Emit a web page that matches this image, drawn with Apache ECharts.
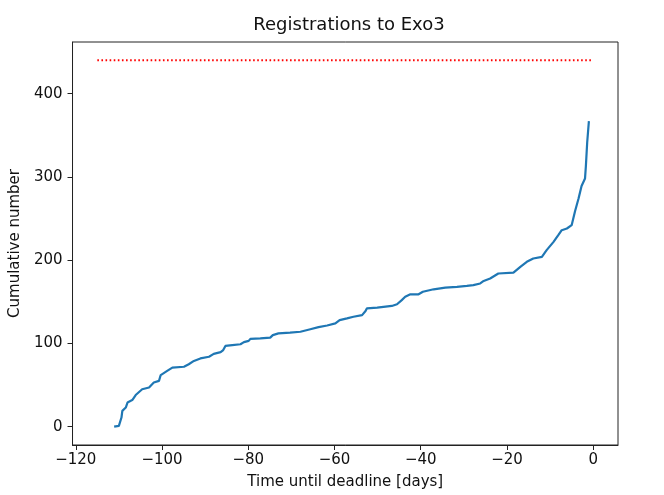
<!DOCTYPE html>
<html>
<head>
<meta charset="utf-8">
<script src="https://cdn.jsdelivr.net/npm/echarts@6/dist/echarts.min.js"></script>
<style>
html,body{margin:0;padding:0;background:#fff;}
#chart{width:664px;height:495px;}
</style>
</head>
<body>
<div id="chart"></div>
<script>
// Days until deadline (x) and cumulative registrations (y)
var days = [-111.1,-110.0,-109.4,-109.2,-108.4,-108.0,-106.9,-106.1,-104.6,-103.0,-101.9,-100.7,-100.3,-98.8,-97.6,-94.9,-93.8,-92.6,-91.1,-89.1,
  -88.0,-86.4,-85.8,-85.3,-83.7,-81.8,-81.0,-79.9,-79.5,-77.2,-74.9,-74.3,-73.0,-70.3,-67.9,-65.6,-63.7,-61.7,-59.8,-58.8,
  -57.1,-55.6,-53.6,-52.8,-52.5,-50.1,-46.7,-45.5,-44.4,-43.6,-42.4,-40.5,-39.5,-37.0,-34.3,-31.6,-29.3,-27.8,-26.2,
  -25.4,-23.9,-22.0,-18.5,-16.9,-15.4,-13.9,-11.9,-10.8,-9.2,-8.1,-7.3,-6.1,-5.0,-4.2,-3.4,-2.7,-1.9,-1.7,-1.4,-1.0];
var cumulative = [0,1,11,19,23,29,32,38,45,47,53,55,62,67,71,72,75,79,82,84,
  87.5,89.5,92,97,98,99,101.5,103,105.5,106,107,110,112,113,114,117,119.5,121.5,124,128,
  130,132,134,139,142,143,145,147,152,156,159,159,162,165,167,168,169,170,172,
  175,178,184,185,192,198,202,204,212,222,230,236,238,242,259,274,289,298,313,341,367];
// Capacity line
var capacityDays = [-115, 0];
var capacityValue = 440;
var xTicks = [-120,-100,-80,-60,-40,-20,0];
var yTicks = [0,100,200,300,400];

var curve = days.map(function(d,i){return [d,cumulative[i]];});
var capLine = capacityDays.map(function(d){return [d,capacityValue];});
var font = 'DejaVu Sans';
function fmt(v){ return (v<0?'\u2212':'') + Math.abs(v); }

var chart = echarts.init(document.getElementById('chart'), null, {renderer:'canvas'});
chart.setOption({
  animation:false,
  backgroundColor:'#ffffff',
  title:{text:'Registrations to Exo3', left:344, textAlign:'center', top:11,
    textStyle:{fontFamily:font, fontSize:18, fontWeight:'normal', color:'#111'}},
  grid:{left:72, right:46, top:42, bottom:47, show:true, borderColor:'#222', borderWidth:1, backgroundColor:'transparent'},
  xAxis:{type:'value', min:-120.75, max:5.75,
    name:'Time until deadline [days]', nameLocation:'middle', nameGap:30,
    nameTextStyle:{fontFamily:font, fontSize:15, color:'#111'},
    axisLine:{show:true, onZero:false, lineStyle:{color:'#222', width:1}},
    axisTick:{show:true, inside:false, length:5, customValues:xTicks, lineStyle:{color:'#222'}},
    axisLabel:{show:true, customValues:xTicks, margin:8, formatter:fmt, fontFamily:font, fontSize:15, color:'#111'},
    splitLine:{show:false}},
  yAxis:{type:'value', min:-22, max:462,
    name:'Cumulative number', nameLocation:'middle', nameGap:46, nameRotate:90,
    nameTextStyle:{fontFamily:font, fontSize:15, color:'#111'},
    axisLine:{show:true, onZero:false, lineStyle:{color:'#222', width:1}},
    axisTick:{show:true, inside:false, length:5, customValues:yTicks, lineStyle:{color:'#222'}},
    axisLabel:{show:true, customValues:yTicks, margin:10, formatter:fmt, fontFamily:font, fontSize:15, color:'#111'},
    splitLine:{show:false}},
  series:[
    {type:'line', data:capLine, showSymbol:false, symbol:'none',
      lineStyle:{color:'#ff0000', width:2, type:[1.6,2.5]}},
    {type:'line', data:curve, showSymbol:false, symbol:'none', smooth:false,
      lineStyle:{color:'#1f77b4', width:2.2}}
  ]
});
</script>
</body>
</html>
